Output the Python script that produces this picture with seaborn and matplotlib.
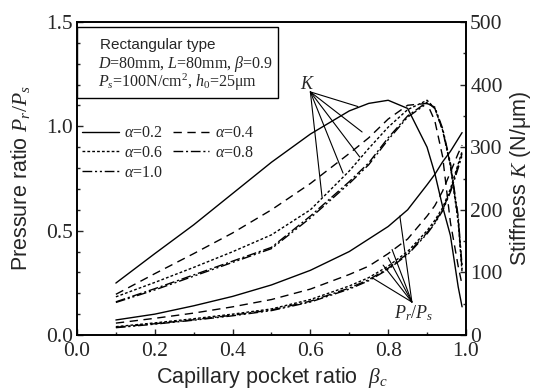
import numpy as np
import pandas as pd
import matplotlib
matplotlib.use("Agg")
import matplotlib.pyplot as plt
from matplotlib.patches import Rectangle
from matplotlib.ticker import MultipleLocator
import seaborn as sns

sns.set_style("ticks")
plt.rcParams["font.family"] = ["Liberation Serif", "DejaVu Serif"]
plt.rcParams["mathtext.fontset"] = "custom"
plt.rcParams["mathtext.rm"] = "Liberation Serif"
plt.rcParams["mathtext.it"] = "Liberation Serif:italic"
plt.rcParams["mathtext.bf"] = "Liberation Serif:bold"

# ---- data ----
beta = [0.1, 0.2, 0.3, 0.4, 0.5, 0.6, 0.7, 0.75, 0.8, 0.85, 0.9, 0.92, 0.94, 0.96, 0.98, 0.99]
alphas = ["0.2", "0.4", "0.6", "0.8", "1.0"]

P_a02 = [0.072, 0.10, 0.14, 0.185, 0.24, 0.31, 0.40, 0.46, 0.52, 0.60, 0.72, 0.77, 0.83, 0.88, 0.94, 0.97]
P_a04 = [0.057, 0.08, 0.105, 0.135, 0.17, 0.22, 0.29, 0.33, 0.39, 0.46, 0.57, 0.62, 0.69, 0.78, 0.87, 0.91]
P_a06 = [0.040, 0.058, 0.078, 0.10, 0.125, 0.17, 0.235, 0.275, 0.33, 0.40, 0.50, 0.55, 0.61, 0.70, 0.82, 0.88]
P_a08 = [0.037, 0.054, 0.073, 0.095, 0.12, 0.162, 0.225, 0.265, 0.32, 0.39, 0.49, 0.54, 0.60, 0.69, 0.81, 0.87]
P_a10 = [0.035, 0.052, 0.071, 0.092, 0.117, 0.158, 0.22, 0.26, 0.315, 0.385, 0.485, 0.535, 0.595, 0.685, 0.80, 0.86]

K_a02 = [83, 130, 176, 226, 276, 321, 358, 370, 375, 362, 300, 258, 205, 159, 77, 45]
K_a04 = [65, 98, 130, 163, 200, 242, 290, 315, 345, 367, 370, 342, 285, 180, 110, 80]
K_a06 = [61, 84, 108, 133, 160, 200, 262, 298, 332, 360, 375, 362, 327, 270, 180, 100]
K_a08 = [53, 74, 96, 118, 140, 190, 245, 275, 315, 350, 372, 362, 327, 272, 185, 105]
K_a10 = [52, 72, 94, 116, 138, 187, 242, 272, 312, 348, 370, 364, 330, 275, 190, 110]

P_series = [P_a02, P_a04, P_a06, P_a08, P_a10]
K_series = [K_a02, K_a04, K_a06, K_a08, K_a10]

styles = ["-", (0, (6, 4)), (0, (2, 1.5)), (0, (7, 2, 1.5, 2)), (0, (7, 2, 1.5, 2, 1.5, 2))]

fig = plt.figure(figsize=(5.41, 3.91), dpi=100)
ax = fig.add_axes([0.1423, 0.1432, 0.719, 0.8005])
ax2 = ax.twinx()

handles = []
for a, P, K, ls in zip(alphas, P_series, K_series, styles):
    df = pd.DataFrame({"beta": beta, "P": P, "K": K})
    sns.lineplot(data=df, x="beta", y="P", ax=ax, color="black", lw=1.0,
                 linestyle=ls, legend=False)
    sns.lineplot(data=df, x="beta", y="K", ax=ax2, color="black", lw=1.0,
                 linestyle=ls, legend=False)
    handles.append(ax.lines[-1])

ax.set_xlim(0, 1.0)
ax.set_ylim(0, 1.5)
ax2.set_ylim(0, 500)
ax.xaxis.set_minor_locator(MultipleLocator(0.1))
ax.yaxis.set_minor_locator(MultipleLocator(0.1))
ax2.yaxis.set_major_locator(MultipleLocator(100))
ax2.yaxis.set_minor_locator(MultipleLocator(50))
ax.set_xticks([0, 0.2, 0.4, 0.6, 0.8, 1.0], ["0.0", "0.2", "0.4", "0.6", "0.8", "1.0"])
ax.set_yticks([0, 0.5, 1.0, 1.5], ["0.0", "0.5", "1.0", "1.5"])

for a_ in (ax, ax2):
    a_.tick_params(which="both", direction="in", labelsize=15.5, width=1.0)
    a_.tick_params(which="major", length=4.5)
    a_.tick_params(which="minor", length=2)
    for s in a_.spines.values():
        s.set_linewidth(1.2)
        s.set_color("black")
ax.tick_params(axis="x", pad=5)
ax.tick_params(axis="y", pad=3)
ax2.tick_params(axis="y", pad=3)

sans = ["Liberation Sans", "DejaVu Sans"]
ax.set_xlabel(r"Capillary pocket ratio  $\beta_c$", fontsize=15.5, family=sans, labelpad=3)
ax.set_ylabel(r"Pressure ratio $P_r/P_s$", fontsize=15.5, family=sans)
ax.yaxis.set_label_coords(-0.115, 0.5)
ax2.set_ylabel(r"Stiffness $K$ (N/μm)", fontsize=15.5, family=sans, labelpad=4)

# info box
ax.add_patch(Rectangle((0.0, 0.757), 0.517, 0.227, transform=ax.transAxes,
                       fill=False, lw=1.0, ec="black"))
ax.text(0.06, 0.927, "Rectangular type", transform=ax.transAxes, fontsize=11,
        family=sans, va="center", ha="left")
ax.text(0.054, 0.867, r"$D$=80mm, $L$=80mm, $\beta$=0.9", transform=ax.transAxes,
        fontsize=11.5, va="center", ha="left")
ax.text(0.054, 0.806, r"$P_s$=100N/cm$^2$, $h_0$=25μm", transform=ax.transAxes,
        fontsize=11.5, va="center", ha="left")

# legend (row-wise order)
labels = [r"$\alpha$=" + a for a in alphas]
order = [0, 2, 4, 1, 3]
ax.legend([handles[i] for i in order], [labels[i] for i in order], ncol=2,
          frameon=False, loc="upper left", bbox_to_anchor=(-0.012, 0.70),
          fontsize=11.5, handlelength=2.3, columnspacing=0.6, labelspacing=0.22,
          handletextpad=0.35, borderaxespad=0.2)

# pointer annotations
K_origin = (0.60, 1.165)
K_targets = [(0.722, 1.095), (0.733, 0.973), (0.727, 0.853), (0.684, 0.776), (0.63, 0.661)]
for tx, ty in K_targets:
    ax.annotate("", xy=(tx, ty), xytext=K_origin,
                arrowprops=dict(arrowstyle="-", lw=0.8, color="black", shrinkA=0, shrinkB=0))
ax.text(0.593, 1.178, r"$K$", fontsize=13, ha="center", va="baseline")

P_origin = (0.861, 0.158)
P_targets = [(0.83, 0.57), (0.81, 0.41), (0.80, 0.37), (0.787, 0.335), (0.76, 0.273)]
for tx, ty in P_targets:
    ax.annotate("", xy=(tx, ty), xytext=P_origin,
                arrowprops=dict(arrowstyle="-", lw=0.8, color="black", shrinkA=0, shrinkB=0))
ax.text(0.865, 0.15, r"$P_r/P_s$", fontsize=13, ha="center", va="top")

fig.savefig("out.png", dpi=100)
